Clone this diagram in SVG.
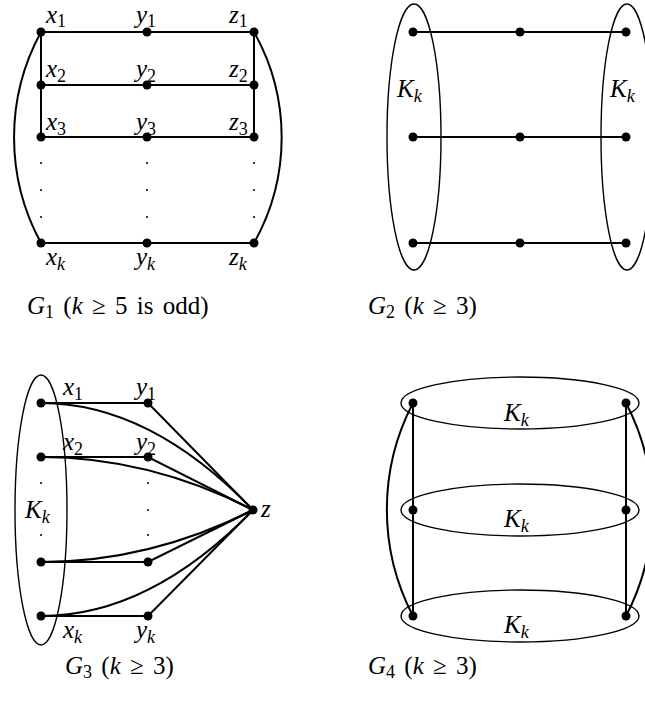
<svg xmlns="http://www.w3.org/2000/svg" width="645" height="709" viewBox="0 0 645 709">
<style>
.e{stroke:#000;stroke-width:2;fill:none}
.o{stroke:#000;stroke-width:1.4;fill:none}
.n{fill:#000}
.d{fill:#000}
text{font-family:"Liberation Serif","DejaVu Serif",serif;fill:#000}
.v{font-style:italic;font-size:25px}
.s{font-size:18px;font-style:normal}
.si{font-size:18px;font-style:italic}
.c{font-size:25px;word-spacing:3px}
</style>
<rect width="645" height="709" fill="#fff"/>
<g id="connectors">
<path class="e" d="M41,32H254M41,85H254M41,137H254M41,243H254M41,32V137M254,32V137"/>
<path class="e" d="M41,32A220,220 0 0 0 41,243"/>
<path class="e" d="M254,32A215,215 0 0 1 254,243"/>
<path class="e" d="M413,32H626M413,137H626M413,243H626"/>
<ellipse class="o" cx="414" cy="137" rx="27" ry="133"/>
<ellipse class="o" cx="627" cy="137" rx="26" ry="133"/>
<path class="e" d="M41,403H148L253,510M41,457H148L253,510M41,562H148L253,510M41,616H148L253,510"/>
<path class="e" d="M41,403Q150,403 253,510M41,457Q150,457 253,510M41,562Q150,562 253,510M41,616Q150,616 253,510"/>
<ellipse class="o" cx="41" cy="510" rx="26" ry="135"/>
<path class="e" d="M413,403V616M626,403V616"/>
<path class="e" d="M413,403A230,230 0 0 0 413,616"/>
<path class="e" d="M626,403A230,230 0 0 1 626,616"/>
<ellipse class="o" cx="520" cy="403" rx="119" ry="26"/>
<ellipse class="o" cx="520" cy="510" rx="119" ry="26"/>
<ellipse class="o" cx="520" cy="616" rx="119" ry="26"/>
</g>
<g id="G1">
<g class="n"><circle cx="41" cy="32" r="4.5"/><circle cx="147" cy="32" r="4.5"/><circle cx="254" cy="32" r="4.5"/>
<circle cx="41" cy="85" r="4.5"/><circle cx="147" cy="85" r="4.5"/><circle cx="254" cy="85" r="4.5"/>
<circle cx="41" cy="137" r="4.5"/><circle cx="147" cy="137" r="4.5"/><circle cx="254" cy="137" r="4.5"/>
<circle cx="41" cy="243" r="4.5"/><circle cx="147" cy="243" r="4.5"/><circle cx="254" cy="243" r="4.5"/></g>
<g class="d"><circle cx="41" cy="163" r="1"/><circle cx="41" cy="190" r="1"/><circle cx="41" cy="217" r="1"/>
<circle cx="147" cy="163" r="1"/><circle cx="147" cy="190" r="1"/><circle cx="147" cy="217" r="1"/>
<circle cx="254" cy="163" r="1"/><circle cx="254" cy="190" r="1"/><circle cx="254" cy="217" r="1"/></g>
<text x="46" y="23" class="v">x<tspan class="s" dy="4">1</tspan></text>
<text x="136" y="23" class="v">y<tspan class="s" dy="4">1</tspan></text>
<text x="229" y="23" class="v">z<tspan class="s" dy="4">1</tspan></text>
<text x="46" y="77" class="v">x<tspan class="s" dy="5">2</tspan></text>
<text x="136" y="77" class="v">y<tspan class="s" dy="5">2</tspan></text>
<text x="229" y="77" class="v">z<tspan class="s" dy="5">2</tspan></text>
<text x="46" y="130" class="v">x<tspan class="s" dy="5">3</tspan></text>
<text x="136" y="130" class="v">y<tspan class="s" dy="5">3</tspan></text>
<text x="229" y="130" class="v">z<tspan class="s" dy="5">3</tspan></text>
<text x="46" y="265" class="v">x<tspan class="si" dy="5">k</tspan></text>
<text x="136" y="265" class="v">y<tspan class="si" dy="5">k</tspan></text>
<text x="229" y="265" class="v">z<tspan class="si" dy="5">k</tspan></text>
<text x="27" y="314" class="c"><tspan font-style="italic">G</tspan><tspan class="s" dy="4">1</tspan><tspan dy="-4"> (</tspan><tspan font-style="italic">k</tspan> ≥ 5 is odd)</text>
</g>
<g id="G2">
<g class="n"><circle cx="413" cy="32" r="4.5"/><circle cx="520" cy="32" r="4.5"/><circle cx="626" cy="32" r="4.5"/>
<circle cx="413" cy="137" r="4.5"/><circle cx="520" cy="137" r="4.5"/><circle cx="626" cy="137" r="4.5"/>
<circle cx="413" cy="243" r="4.5"/><circle cx="520" cy="243" r="4.5"/><circle cx="626" cy="243" r="4.5"/></g>
<text x="397" y="97" class="v">K<tspan class="si" dy="5">k</tspan></text>
<text x="610" y="97" class="v">K<tspan class="si" dy="5">k</tspan></text>
<text x="368" y="314" class="c"><tspan font-style="italic">G</tspan><tspan class="s" dy="4">2</tspan><tspan dy="-4"> (</tspan><tspan font-style="italic">k</tspan> ≥ 3)</text>
</g>
<g id="G3">
<g class="n"><circle cx="41" cy="403" r="4.5"/><circle cx="148" cy="403" r="4.5"/>
<circle cx="41" cy="457" r="4.5"/><circle cx="148" cy="457" r="4.5"/>
<circle cx="41" cy="562" r="4.5"/><circle cx="148" cy="562" r="4.5"/>
<circle cx="41" cy="616" r="4.5"/><circle cx="148" cy="616" r="4.5"/>
<circle cx="253" cy="510" r="4.5"/></g>
<g class="d"><circle cx="41" cy="483" r="1"/><circle cx="41" cy="535" r="1"/>
<circle cx="148" cy="483" r="1"/><circle cx="148" cy="510" r="1"/><circle cx="148" cy="535" r="1"/></g>
<text x="63" y="395" class="v">x<tspan class="s" dy="5">1</tspan></text>
<text x="136" y="395" class="v">y<tspan class="s" dy="5">1</tspan></text>
<text x="63" y="450" class="v">x<tspan class="s" dy="5">2</tspan></text>
<text x="136" y="450" class="v">y<tspan class="s" dy="5">2</tspan></text>
<text x="25" y="518" class="v">K<tspan class="si" dy="5">k</tspan></text>
<text x="261" y="517" class="v">z</text>
<text x="63" y="638" class="v">x<tspan class="si" dy="5">k</tspan></text>
<text x="136" y="638" class="v">y<tspan class="si" dy="5">k</tspan></text>
<text x="65" y="674" class="c"><tspan font-style="italic">G</tspan><tspan class="s" dy="4">3</tspan><tspan dy="-4"> (</tspan><tspan font-style="italic">k</tspan> ≥ 3)</text>
</g>
<g id="G4">
<g class="n"><circle cx="413" cy="403" r="4.5"/><circle cx="626" cy="403" r="4.5"/>
<circle cx="413" cy="510" r="4.5"/><circle cx="626" cy="510" r="4.5"/>
<circle cx="413" cy="616" r="4.5"/><circle cx="626" cy="616" r="4.5"/></g>
<text x="504" y="421" class="v">K<tspan class="si" dy="5">k</tspan></text>
<text x="504" y="527" class="v">K<tspan class="si" dy="5">k</tspan></text>
<text x="504" y="633" class="v">K<tspan class="si" dy="5">k</tspan></text>
<text x="368" y="674" class="c"><tspan font-style="italic">G</tspan><tspan class="s" dy="4">4</tspan><tspan dy="-4"> (</tspan><tspan font-style="italic">k</tspan> ≥ 3)</text>
</g>
</svg>
